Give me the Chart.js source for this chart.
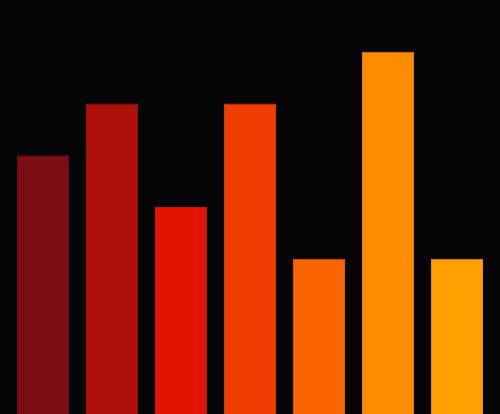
<!DOCTYPE html>
<html>
<head>
<meta charset="utf-8">
<script src="https://cdn.jsdelivr.net/npm/chart.js@4"></script>
<style>
  html, body { margin: 0; padding: 0; background: #050507; }
  #wrap { width: 500px; height: 414px; position: relative; }
</style>
</head>
<body>
<div id="wrap"><canvas id="c"></canvas></div>
<script>
const categories = ["1", "2", "3", "4", "5", "6", "7"];
const values = [5, 6, 4, 6, 3, 7, 3];
const barColors = ["#7a0e13", "#ad1009", "#e21400", "#f03c00", "#f86400", "#ff8c00", "#ffa000"];
const borderColors = ["#6e0c10", "#9c0e08", "#cc1200", "#d83600", "#df5a00", "#e67e00", "#e69000"];
const yMax = 8;

new Chart(document.getElementById('c'), {
  type: 'bar',
  data: {
    labels: categories,
    datasets: [{
      data: values,
      backgroundColor: barColors,
      borderColor: borderColors,
      borderWidth: 1,
      categoryPercentage: 1.0,
      barPercentage: 0.754
    }]
  },
  options: {
    responsive: true,
    maintainAspectRatio: false,
    animation: false,
    layout: { padding: { left: 8.5, right: 8.5, top: 0, bottom: 0 } },
    plugins: { legend: { display: false }, tooltip: { enabled: false } },
    scales: {
      x: { display: false },
      y: { display: false, min: 0, max: yMax }
    }
  }
});
</script>
</body>
</html>
